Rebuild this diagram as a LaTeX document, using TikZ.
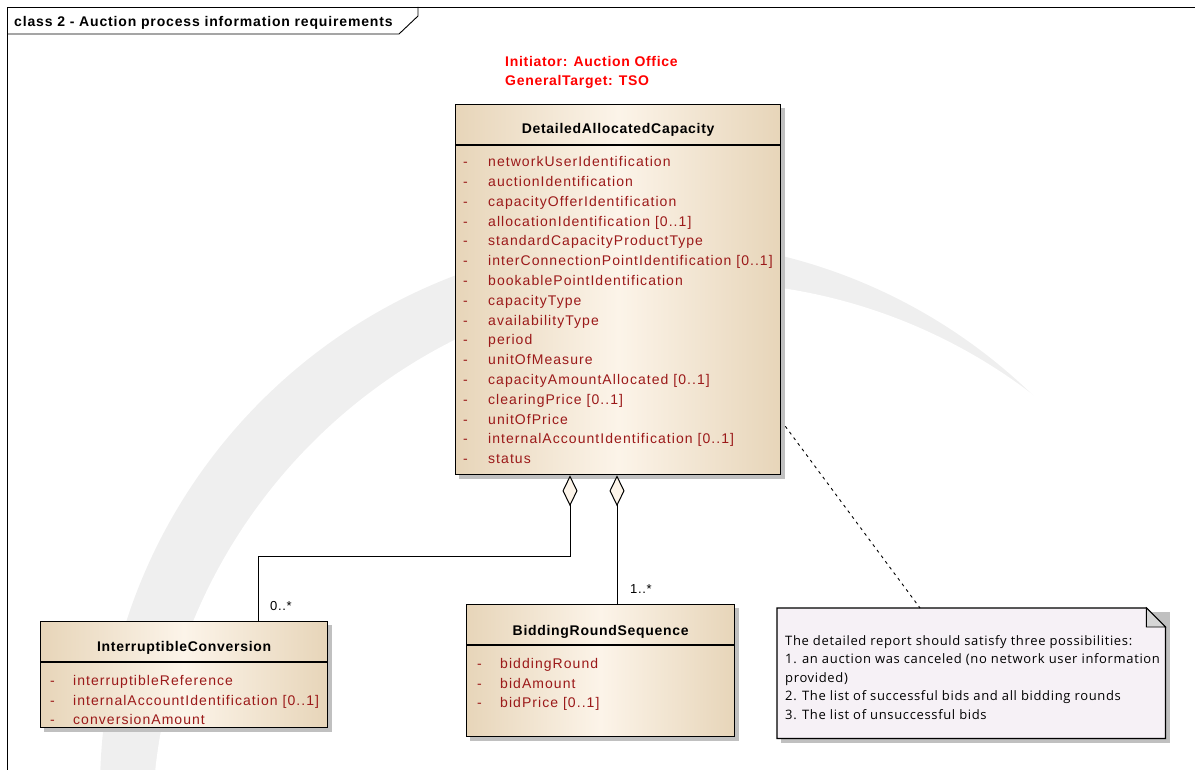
\documentclass[tikz,border=0pt]{standalone}
\usepackage{fontspec}
\setmainfont{Liberation Sans}
\newfontfamily\umlattr{Liberation Sans}[LetterSpace=7.5]
\newfontfamily\umlhead{Liberation Sans}[LetterSpace=5]
\newfontfamily\umltitle{Liberation Sans}[LetterSpace=6]
\newfontfamily\notefont{Open Sans}[LetterSpace=5]
\usetikzlibrary{arrows.meta,shadows,positioning,calc,backgrounds}
\definecolor{classtan}{RGB}{231,213,185}
\definecolor{classlight}{RGB}{252,244,233}
\definecolor{attrred}{RGB}{155,25,25}
\definecolor{notefill}{RGB}{246,241,246}
\definecolor{foldgray}{RGB}{214,214,214}
\definecolor{markgray}{RGB}{239,239,239}
\definecolor{shadowgray}{RGB}{192,192,192}
\tikzset{
  classbox/.style={draw=black, line width=1.3pt, left color=classtan, right color=classtan, middle color=classlight, anchor=north west, inner sep=0pt},
  boxshadow/.style={fill=shadowgray, draw=none},
  classname/.style={font=\umlhead\bfseries\fontsize{14}{16}\selectfont, inner sep=0pt},
  attrtxt/.style={text=attrred, font=\umlattr\fontsize{14}{16}\selectfont, anchor=mid west, inner sep=0pt},
  multlbl/.style={font=\umlhead\fontsize{13}{16}\selectfont, inner sep=0pt},
  aggr/.style={line width=1pt, {Diamond[length=31pt,width=15pt,fill=classlight,line width=1pt]}-},
  notelink/.style={line width=0.9pt, dash pattern=on 3pt off 4pt},
}
\begin{document}
\begin{tikzpicture}[x=1pt,y=-1pt]
\useasboundingbox (0,0) rectangle (1195,770);
% watermark swoosh
\begin{scope}
  \clip (0,0) rectangle (1195,770);
  \fill[markgray] (650,790) circle (550);
  \fill[white] (700,830) circle (548);
\end{scope}
% frame and its tab
\draw[line width=0.9pt] (7,770) -- (7,7) -- (1195,7);
\draw[line width=0.9pt] (7,34) -- (399,34) -- (418,16) -- (418,7);
\node[font=\umltitle\bfseries\fontsize{14}{16}\selectfont, anchor=west, inner sep=0pt] (frametitle) at (14,23) {class 2 - Auction process information requirements};
\node[font=\umlhead\bfseries\fontsize{14}{19}\selectfont, text=red, align=left, anchor=north west, inner sep=0pt] (tags) at (505,56) {Initiator: Auction Office\\GeneralTarget: TSO};

% classes
\fill[boxshadow] (459,108) rectangle (785,479);
\node[classbox, minimum width=325pt, minimum height=370pt] (dac) at (455,104) {};
\fill[boxshadow] (44,625) rectangle (332,732);
\node[classbox, minimum width=287pt, minimum height=106pt] (icv) at (40,621) {};
\fill[boxshadow] (470,608) rectangle (739,741);
\node[classbox, minimum width=268pt, minimum height=132pt] (brs) at (466,604) {};

\node[classname] (dacname) at ($(dac.north)+(0,26)$) {DetailedAllocatedCapacity};
\draw[line width=1.3pt] ($(dac.north west)+(0,41)$) -- ($(dac.north east)+(0,41)$);
\foreach \a [count=\i from 0] in {networkUserIdentification, auctionIdentification, capacityOfferIdentification, {allocationIdentification [0..1]}, standardCapacityProductType, {interConnectionPointIdentification [0..1]}, bookablePointIdentification, capacityType, availabilityType, period, unitOfMeasure, {capacityAmountAllocated [0..1]}, {clearingPrice [0..1]}, unitOfPrice, {internalAccountIdentification [0..1]}, status}{
  \node[attrtxt] (dac-d\i) at ($(dac.north west)+(8,{60+19.8*\i})$) {-};
  \node[attrtxt] (dac-a\i) at ($(dac.north west)+(33,{60+19.8*\i})$) {\a};
}

\node[classname] (icvname) at ($(icv.north)+(0,27)$) {InterruptibleConversion};
\draw[line width=1.3pt] ($(icv.north west)+(0,41)$) -- ($(icv.north east)+(0,41)$);
\foreach \a [count=\i from 0] in {interruptibleReference, {internalAccountIdentification [0..1]}, conversionAmount}{
  \node[attrtxt] (icv-d\i) at ($(icv.north west)+(10,{62+19.5*\i})$) {-};
  \node[attrtxt] (icv-a\i) at ($(icv.north west)+(33,{62+19.5*\i})$) {\a};
}

\node[classname] (brsname) at ($(brs.north)+(0,28)$) {BiddingRoundSequence};
\draw[line width=1.3pt] ($(brs.north west)+(0,41)$) -- ($(brs.north east)+(0,41)$);
\foreach \a [count=\i from 0] in {biddingRound, bidAmount, {bidPrice [0..1]}}{
  \node[attrtxt] (brs-d\i) at ($(brs.north west)+(11,{62+19.5*\i})$) {-};
  \node[attrtxt] (brs-a\i) at ($(brs.north west)+(34,{62+19.5*\i})$) {\a};
}

% note
\fill[boxshadow] (781,612) rectangle (1170,743);
\node[draw=none, minimum width=388pt, minimum height=130pt, anchor=north west, inner sep=0pt] (note) at (777,608) {};
\draw[line width=1.3pt, fill=notefill] (note.north west) -- ([xshift=-19pt]note.north east) -- ([yshift=-19pt]note.north east) -- (note.south east) -- (note.south west) -- cycle;
\draw[line width=0.9pt, fill=foldgray] ([xshift=-19pt]note.north east) -- ([xshift=-19pt,yshift=-19pt]note.north east) -- ([yshift=-19pt]note.north east) -- cycle;
\node[font=\notefont\fontsize{13}{18.5}\selectfont, align=left, anchor=north west, inner sep=0pt] (notetext) at ($(note.north west)+(8,27)$) {The detailed report should satisfy three possibilities:\\1. an auction was canceled (no network user information\\provided)\\2. The list of successful bids and all bidding rounds\\3. The list of unsuccessful bids};

% connectors
\coordinate (aggA) at ([xshift=115pt]dac.south west);
\coordinate (aggB) at ([xshift=162pt]dac.south west);
\coordinate (icvtop) at ([xshift=218pt]icv.north west);
\coordinate (brstop) at ([xshift=151pt]brs.north west);
\coordinate (dacnote) at ([xshift=4pt,yshift=49pt]dac.south east);
\coordinate (notetop) at ([xshift=143pt]note.north west);
\draw[aggr] (aggA) -- ++(0,81) -| (icvtop);
\draw[aggr] (aggB) -- (brstop);
\draw[notelink] (dacnote) -- (notetop);
\node[multlbl, above right=10pt and 12pt of icvtop, anchor=south west] (icvmult) {0..*};
\node[multlbl, above right=10pt and 13pt of brstop, anchor=south west] (brsmult) {1..*};
\end{tikzpicture}
\end{document}
